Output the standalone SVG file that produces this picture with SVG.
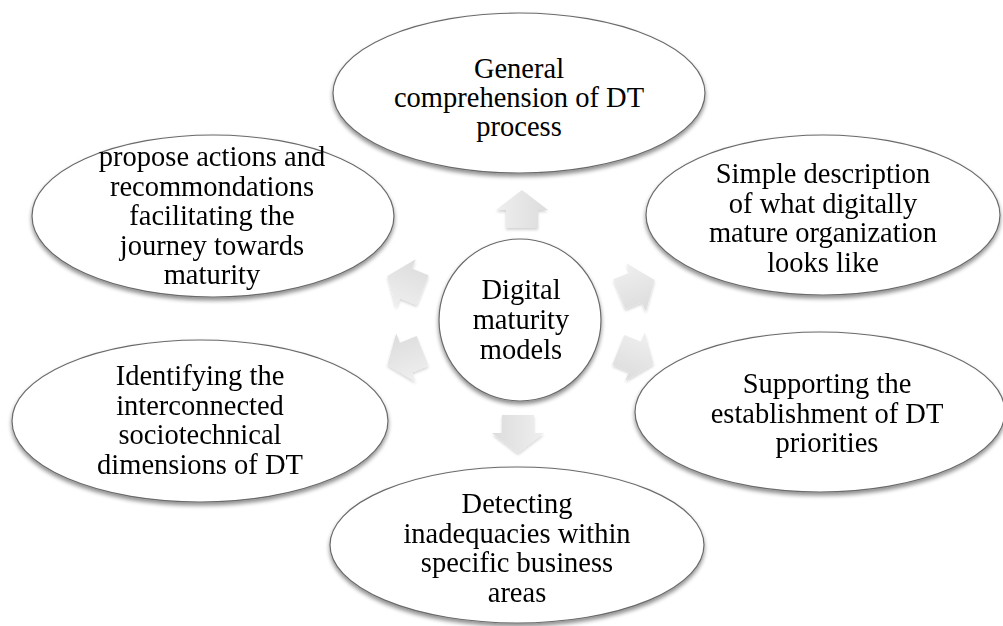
<svg xmlns="http://www.w3.org/2000/svg" width="1003" height="626" viewBox="0 0 1003 626">
  <defs>
    <filter id="shadow" x="-10%" y="-10%" width="120%" height="125%">
      <feGaussianBlur in="SourceAlpha" stdDeviation="2.2"/>
      <feOffset dx="0" dy="3" result="b"/>
      <feComponentTransfer><feFuncA type="linear" slope="0.45"/></feComponentTransfer>
      <feMerge><feMergeNode/><feMergeNode in="SourceGraphic"/></feMerge>
    </filter>
    <filter id="arrowShadow" x="-30%" y="-30%" width="160%" height="160%">
      <feGaussianBlur in="SourceAlpha" stdDeviation="1.5"/>
      <feOffset dx="0" dy="2" result="b"/>
      <feComponentTransfer><feFuncA type="linear" slope="0.18"/></feComponentTransfer>
      <feMerge><feMergeNode/><feMergeNode in="SourceGraphic"/></feMerge>
    </filter>
    <linearGradient id="arrowFill" x1="0" y1="0" x2="0" y2="1">
      <stop offset="0" stop-color="#efefef"/>
      <stop offset="1" stop-color="#dcdcdc"/>
    </linearGradient>
    <!-- block arrow pointing right, centred on the origin -->
    <path id="blockArrow" d="M-19,-16 L-1,-16 L-1,-26 L19,0 L-1,26 L-1,16 L-19,16 Z"/>
  </defs>
  <style>
    .node { fill: #ffffff; stroke: #6a6a6a; stroke-width: 1.2; filter: url(#shadow); }
    .label { font-family: "Liberation Serif", "Times New Roman", serif; font-size: 28.5px; fill: #000000; text-anchor: middle; }
    .arrow use { fill: url(#arrowFill); }
  </style>
  <rect width="1003" height="626" fill="#ffffff"/>

  <!-- radial connectors -->
  <g id="connectors" class="arrow" filter="url(#arrowShadow)">
    <use href="#blockArrow" transform="translate(522,209) rotate(-90)"/>
    <use href="#blockArrow" transform="translate(637,287) rotate(-22)"/>
    <use href="#blockArrow" transform="translate(636,357) rotate(22)"/>
    <use href="#blockArrow" transform="translate(518,434) rotate(90)"/>
    <use href="#blockArrow" transform="translate(405,358) rotate(158)"/>
    <use href="#blockArrow" transform="translate(405,283) rotate(202)"/>
  </g>

  <g id="node-top">
    <ellipse class="node" cx="519" cy="93" rx="186" ry="80"/>
    <text class="label"><tspan x="519" y="78">General</tspan><tspan x="519" y="107">comprehension of DT</tspan><tspan x="519" y="136">process</tspan></text>
  </g>

  <g id="node-top-left">
    <ellipse class="node" cx="213" cy="216" rx="181" ry="81"/>
    <text class="label"><tspan x="212" y="166">propose actions and</tspan><tspan x="212" y="195.5">recommondations</tspan><tspan x="212" y="225">facilitating the</tspan><tspan x="212" y="254.5">journey towards</tspan><tspan x="212" y="284">maturity</tspan></text>
  </g>

  <g id="node-top-right">
    <ellipse class="node" cx="823" cy="215" rx="177" ry="80"/>
    <text class="label"><tspan x="823" y="183">Simple description</tspan><tspan x="823" y="212.5">of what digitally</tspan><tspan x="823" y="242">mature organization</tspan><tspan x="823" y="271.5">looks like</tspan></text>
  </g>

  <g id="node-bottom-right">
    <ellipse class="node" cx="820" cy="412" rx="185" ry="80"/>
    <text class="label"><tspan x="827" y="393">Supporting the</tspan><tspan x="827" y="423">establishment of DT</tspan><tspan x="827" y="452">priorities</tspan></text>
  </g>

  <g id="node-bottom">
    <ellipse class="node" cx="517" cy="545" rx="187" ry="78"/>
    <text class="label"><tspan x="517" y="513">Detecting</tspan><tspan x="517" y="542.5">inadequacies within</tspan><tspan x="517" y="572">specific business</tspan><tspan x="517" y="601.5">areas</tspan></text>
  </g>

  <g id="node-bottom-left">
    <ellipse class="node" cx="200" cy="421" rx="188" ry="81"/>
    <text class="label"><tspan x="200" y="385">Identifying the</tspan><tspan x="200" y="414.5">interconnected</tspan><tspan x="200" y="444">sociotechnical</tspan><tspan x="200" y="473.5">dimensions of DT</tspan></text>
  </g>

  <g id="node-center">
    <circle class="node" cx="520" cy="320" r="81"/>
    <text class="label"><tspan x="521" y="299">Digital</tspan><tspan x="521" y="329">maturity</tspan><tspan x="521" y="359">models</tspan></text>
  </g>
</svg>
